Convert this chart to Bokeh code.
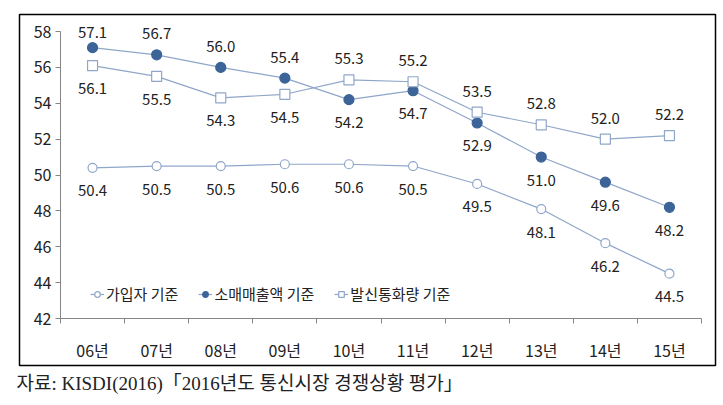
from bokeh.plotting import figure
from bokeh.models import (Range1d, FixedTicker, Legend, LegendItem, Label, ColumnDataSource)
from bokeh.core.properties import value
from bokeh.embed import file_html
from bokeh.resources import INLINE

years = ["06년", "07년", "08년", "09년", "10년", "11년", "12년", "13년", "14년", "15년"]
subscribers = [50.4, 50.5, 50.5, 50.6, 50.6, 50.5, 49.5, 48.1, 46.2, 44.5]
retail_sales = [57.1, 56.7, 56.0, 55.4, 54.2, 54.7, 52.9, 51.0, 49.6, 48.2]
call_volume = [56.1, 55.5, 54.3, 54.5, 55.3, 55.2, 53.5, 52.8, 52.0, 52.2]
series_names = ["가입자 기준", "소매매출액 기준", "발신통화량 기준"]
subscribers_pos = ["below"] * 10
retail_pos = ["above", "above", "above", "above", "below", "below", "below", "below", "below", "below"]
call_pos = ["below", "below", "below", "below", "above", "above", "above", "above", "above", "above"]
yticks = [42, 44, 46, 48, 50, 52, 54, 56, 58]
caption = "자료: KISDI(2016)「2016년도 통신시장 경쟁상황 평가」"

LINE = "#8FA6C9"
DARK = "#3C6498"
TXT = "#222222"
AX = "#868686"
FONT = "Noto Sans CJK KR"
Y0, Y1 = yticks[0], yticks[-1]
NCAT = len(years)

# layout (figure pixels)
W, H = 723, 405
ML, MT, MR, MB = 15, 12, 5, 0
frame_w = W - ML - MR
frame_h = H - MT - MB
# plot area inside the frame
PA_LEFT, PA_RIGHT = 45, 17     # px from frame left / right to first / last category edge
PA_TOP, PA_BOTTOM = 19, 87     # px from frame top / bottom to Y1 / Y0
px_x = (frame_w - PA_LEFT - PA_RIGHT) / NCAT
px_y = (frame_h - PA_TOP - PA_BOTTOM) / (Y1 - Y0)
x0 = -PA_LEFT / px_x
y0 = Y0 - PA_BOTTOM / px_y

p = figure(width=W, height=H, output_backend="svg", toolbar_location=None,
           x_range=Range1d(x0, NCAT + PA_RIGHT / px_x),
           y_range=Range1d(y0, Y1 + PA_TOP / px_y),
           min_border_left=ML, min_border_right=MR, min_border_top=MT, min_border_bottom=MB)
p.outline_line_color = None
p.grid.visible = False
p.background_fill_color = "white"
p.border_fill_color = "white"

xs = [i + 0.5 for i in range(NCAT)]

# outer chart box (frame-relative px -> data units)
BOX_L, BOX_R, BOX_T, BOX_B = 4, 700, 391, 40
p.quad(left=x0 + BOX_L / px_x, right=x0 + BOX_R / px_x,
       top=y0 + BOX_T / px_y, bottom=y0 + BOX_B / px_y,
       fill_color=None, line_color="black", line_width=1.5)

# axes, placed inside the frame
p.yaxis.fixed_location = 0
p.yaxis.ticker = FixedTicker(ticks=yticks)
p.yaxis.bounds = (Y0, Y1)
p.yaxis.axis_line_color = AX
p.yaxis.major_tick_line_color = AX
p.yaxis.major_tick_out = 5
p.yaxis.major_tick_in = 0
p.yaxis.minor_tick_line_color = None
p.yaxis.major_label_text_font = FONT
p.yaxis.major_label_text_font_size = "16px"
p.yaxis.major_label_text_color = TXT
p.yaxis.major_label_standoff = 4

p.xaxis.fixed_location = Y0
p.xaxis.ticker = FixedTicker(ticks=xs, minor_ticks=list(range(NCAT + 1)))
p.xaxis.bounds = (0, NCAT)
p.xaxis.major_label_overrides = {x: y for x, y in zip(xs, years)}
p.xaxis.axis_line_color = AX
p.xaxis.major_tick_line_color = None
p.xaxis.major_tick_out = 0
p.xaxis.major_tick_in = 0
p.xaxis.minor_tick_line_color = AX
p.xaxis.minor_tick_out = 5
p.xaxis.minor_tick_in = 0
p.xaxis.major_label_text_font = FONT
p.xaxis.major_label_text_font_size = "16px"
p.xaxis.major_label_text_color = TXT
p.xaxis.major_label_standoff = 14

items = []
specs = [
    (subscribers, subscribers_pos, "circle", "white", 9),
    (retail_sales, retail_pos, "circle", DARK, 10),
    (call_volume, call_pos, "square", "white", 10),
]
for name, (vals, pos, marker, fill, size) in zip(series_names, specs):
    src = ColumnDataSource(dict(x=xs, y=vals))
    lr = p.line("x", "y", source=src, line_color=LINE, line_width=1.2)
    mc = DARK if fill == DARK else LINE
    sr = p.scatter("x", "y", source=src, marker=marker, size=size,
                   fill_color=fill, line_color=mc, line_width=1.2)
    items.append(LegendItem(label=name, renderers=[lr, sr]))
    offs = []
    for v, ps in zip(vals, pos):
        if ps == "above":
            top_px = (Y1 - v) * px_y
            offs.append(-min(21, top_px - 1))
        else:
            offs.append(23)
    lsrc = ColumnDataSource(dict(x=xs, y=vals, t=[f"{v:.1f}" for v in vals], off=offs))
    p.text("x", "y", text="t", source=lsrc, y_offset="off",
           text_align="center", text_baseline="middle",
           text_font=value(FONT), text_font_size="15px", text_color=TXT)

legend = Legend(items=items, orientation="horizontal", location=(75, 101))
legend.label_text_font = FONT
legend.label_text_font_size = "15px"
legend.label_text_color = TXT
legend.glyph_width = 14
legend.label_standoff = 2
legend.spacing = 20
legend.padding = 0
legend.margin = 0
legend.border_line_color = None
legend.background_fill_alpha = 0
p.add_layout(legend)

cap = Label(x=1, y=22, x_units="screen", y_units="screen", text=caption,
            text_font="Liberation Serif, Noto Sans CJK KR", text_font_size="19px",
            text_baseline="middle", text_align="left", text_color=TXT)
p.add_layout(cap)

open("out.html", "w").write(file_html(p, INLINE))
